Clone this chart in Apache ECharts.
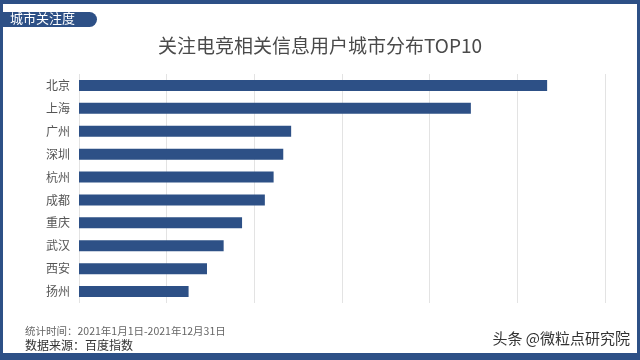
<!DOCTYPE html>
<html><head><meta charset="utf-8">
<script src="https://cdn.jsdelivr.net/npm/echarts@6/dist/echarts.min.js"></script>
<style>html,body{margin:0;padding:0;background:#fff}#c{width:640px;height:360px}</style>
</head><body><div id="c"></div>
<script>
const categories = ['北京','上海','广州','深圳','杭州','成都','重庆','武汉','西安','扬州'];
const values = [5340, 4470, 2420, 2330, 2220, 2120, 1860, 1650, 1460, 1250];
const titleText = '关注电竞相关信息用户城市分布TOP10';
const tabText = '城市关注度';
const note1 = '统计时间：2021年1月1日-2021年12月31日';
const note2 = '数据来源：百度指数';
const mark = '头条 @微粒点研究院';

const FONT = '"Noto Sans CJK SC", "Noto Sans", sans-serif';
const BLUE = '#2d5086';
const chart = echarts.init(document.getElementById('c'), null, {renderer:'canvas'});
chart.setOption({
  backgroundColor: '#fff',
  animation: false,
  title: {text: titleText, left: 'center', top: 31, textStyle: {fontFamily: FONT, fontSize: 19, fontWeight: 'normal', color: '#4a4a4a'}},
  grid: {left: 79, right: 35, top: 74, bottom: 57, containLabel: false},
  xAxis: {type: 'value', min: 0, max: 6000, interval: 1000,
    axisLabel: {show: false}, axisLine: {show: false}, axisTick: {show: false},
    splitLine: {show: true, lineStyle: {color: '#e3e3e3', width: 1}}},
  yAxis: {type: 'category', data: categories, inverse: true,
    axisLine: {show: false}, axisTick: {show: false},
    axisLabel: {fontFamily: FONT, fontSize: 12, color: '#555', margin: 9}},
  series: [{type: 'bar', data: values, barWidth: 11, itemStyle: {color: BLUE}}],
  graphic: [
    {type: 'rect', shape: {x: 0, y: 0, width: 640, height: 4}, style: {fill: BLUE}},
    {type: 'rect', shape: {x: 0, y: 0, width: 3, height: 360}, style: {fill: BLUE}},
    {type: 'rect', shape: {x: 637, y: 0, width: 3, height: 360}, style: {fill: BLUE}},
    {type: 'rect', shape: {x: 0, y: 353, width: 640, height: 7}, style: {fill: BLUE}},
    {type: 'rect', shape: {x: 0, y: 12, width: 97, height: 15, r: [0, 7.5, 7.5, 0]}, style: {fill: BLUE}},
    {type: 'text', left: 10, top: 12, style: {text: tabText, fill: '#fff', font: '13px ' + FONT}},
    {type: 'text', left: 25, top: 326, style: {text: note1, fill: '#666', font: '10.5px ' + FONT}},
    {type: 'text', left: 25, top: 339, style: {text: note2, fill: '#333', font: '12px ' + FONT}},
    {type: 'text', right: 10, top: 331, style: {text: mark, fill: '#333', font: '15px ' + FONT}}
  ]
});
</script></body></html>
